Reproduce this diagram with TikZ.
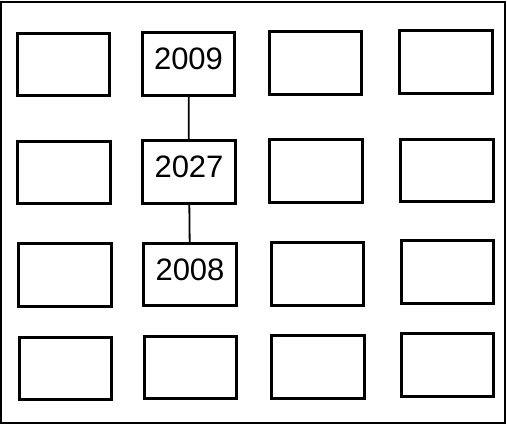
\documentclass[tikz,border=0pt]{standalone}
\usepackage{fontspec}
\setmainfont{Liberation Sans}
\usepackage{tikz}
\usetikzlibrary{positioning}

\begin{document}
\begin{tikzpicture}[x=1pt,y=-1pt,
  cell/.style={draw,line width=2.6pt,minimum width=92.5pt,minimum height=62.5pt,inner sep=0pt,
    font=\fontsize{31}{36}\selectfont,text depth=10pt},
  link/.style={line width=1.8pt}]
\useasboundingbox (0,0) rectangle (507,427);
\draw[line width=2.8pt] (1,2) rectangle (505,423);
\node[cell] (a1) at (63.5,64.5) {};
\node[cell] (a2) at (188.5,64) {2009};
\node[cell] (a3) at (315.5,63) {};
\node[cell] (a4) at (446,62) {};
\node[cell] (b1) at (64,172.5) {};
\node[cell] (b2) at (189,172) {2027};
\node[cell] (b3) at (316,171) {};
\node[cell] (b4) at (447,170.5) {};
\node[cell] (c1) at (65,275) {};
\node[cell] (c2) at (190,274.5) {2008};
\node[cell] (c3) at (317.5,274) {};
\node[cell] (c4) at (447.5,272) {};
\node[cell] (d1) at (65.5,368.5) {};
\node[cell] (d2) at (190.5,367.5) {};
\node[cell] (d3) at (318,367) {};
\node[cell] (d4) at (447.5,365) {};
\draw[link] (a2) -- (b2);
\draw[link] (b2) -- (c2);
\end{tikzpicture}
\end{document}
